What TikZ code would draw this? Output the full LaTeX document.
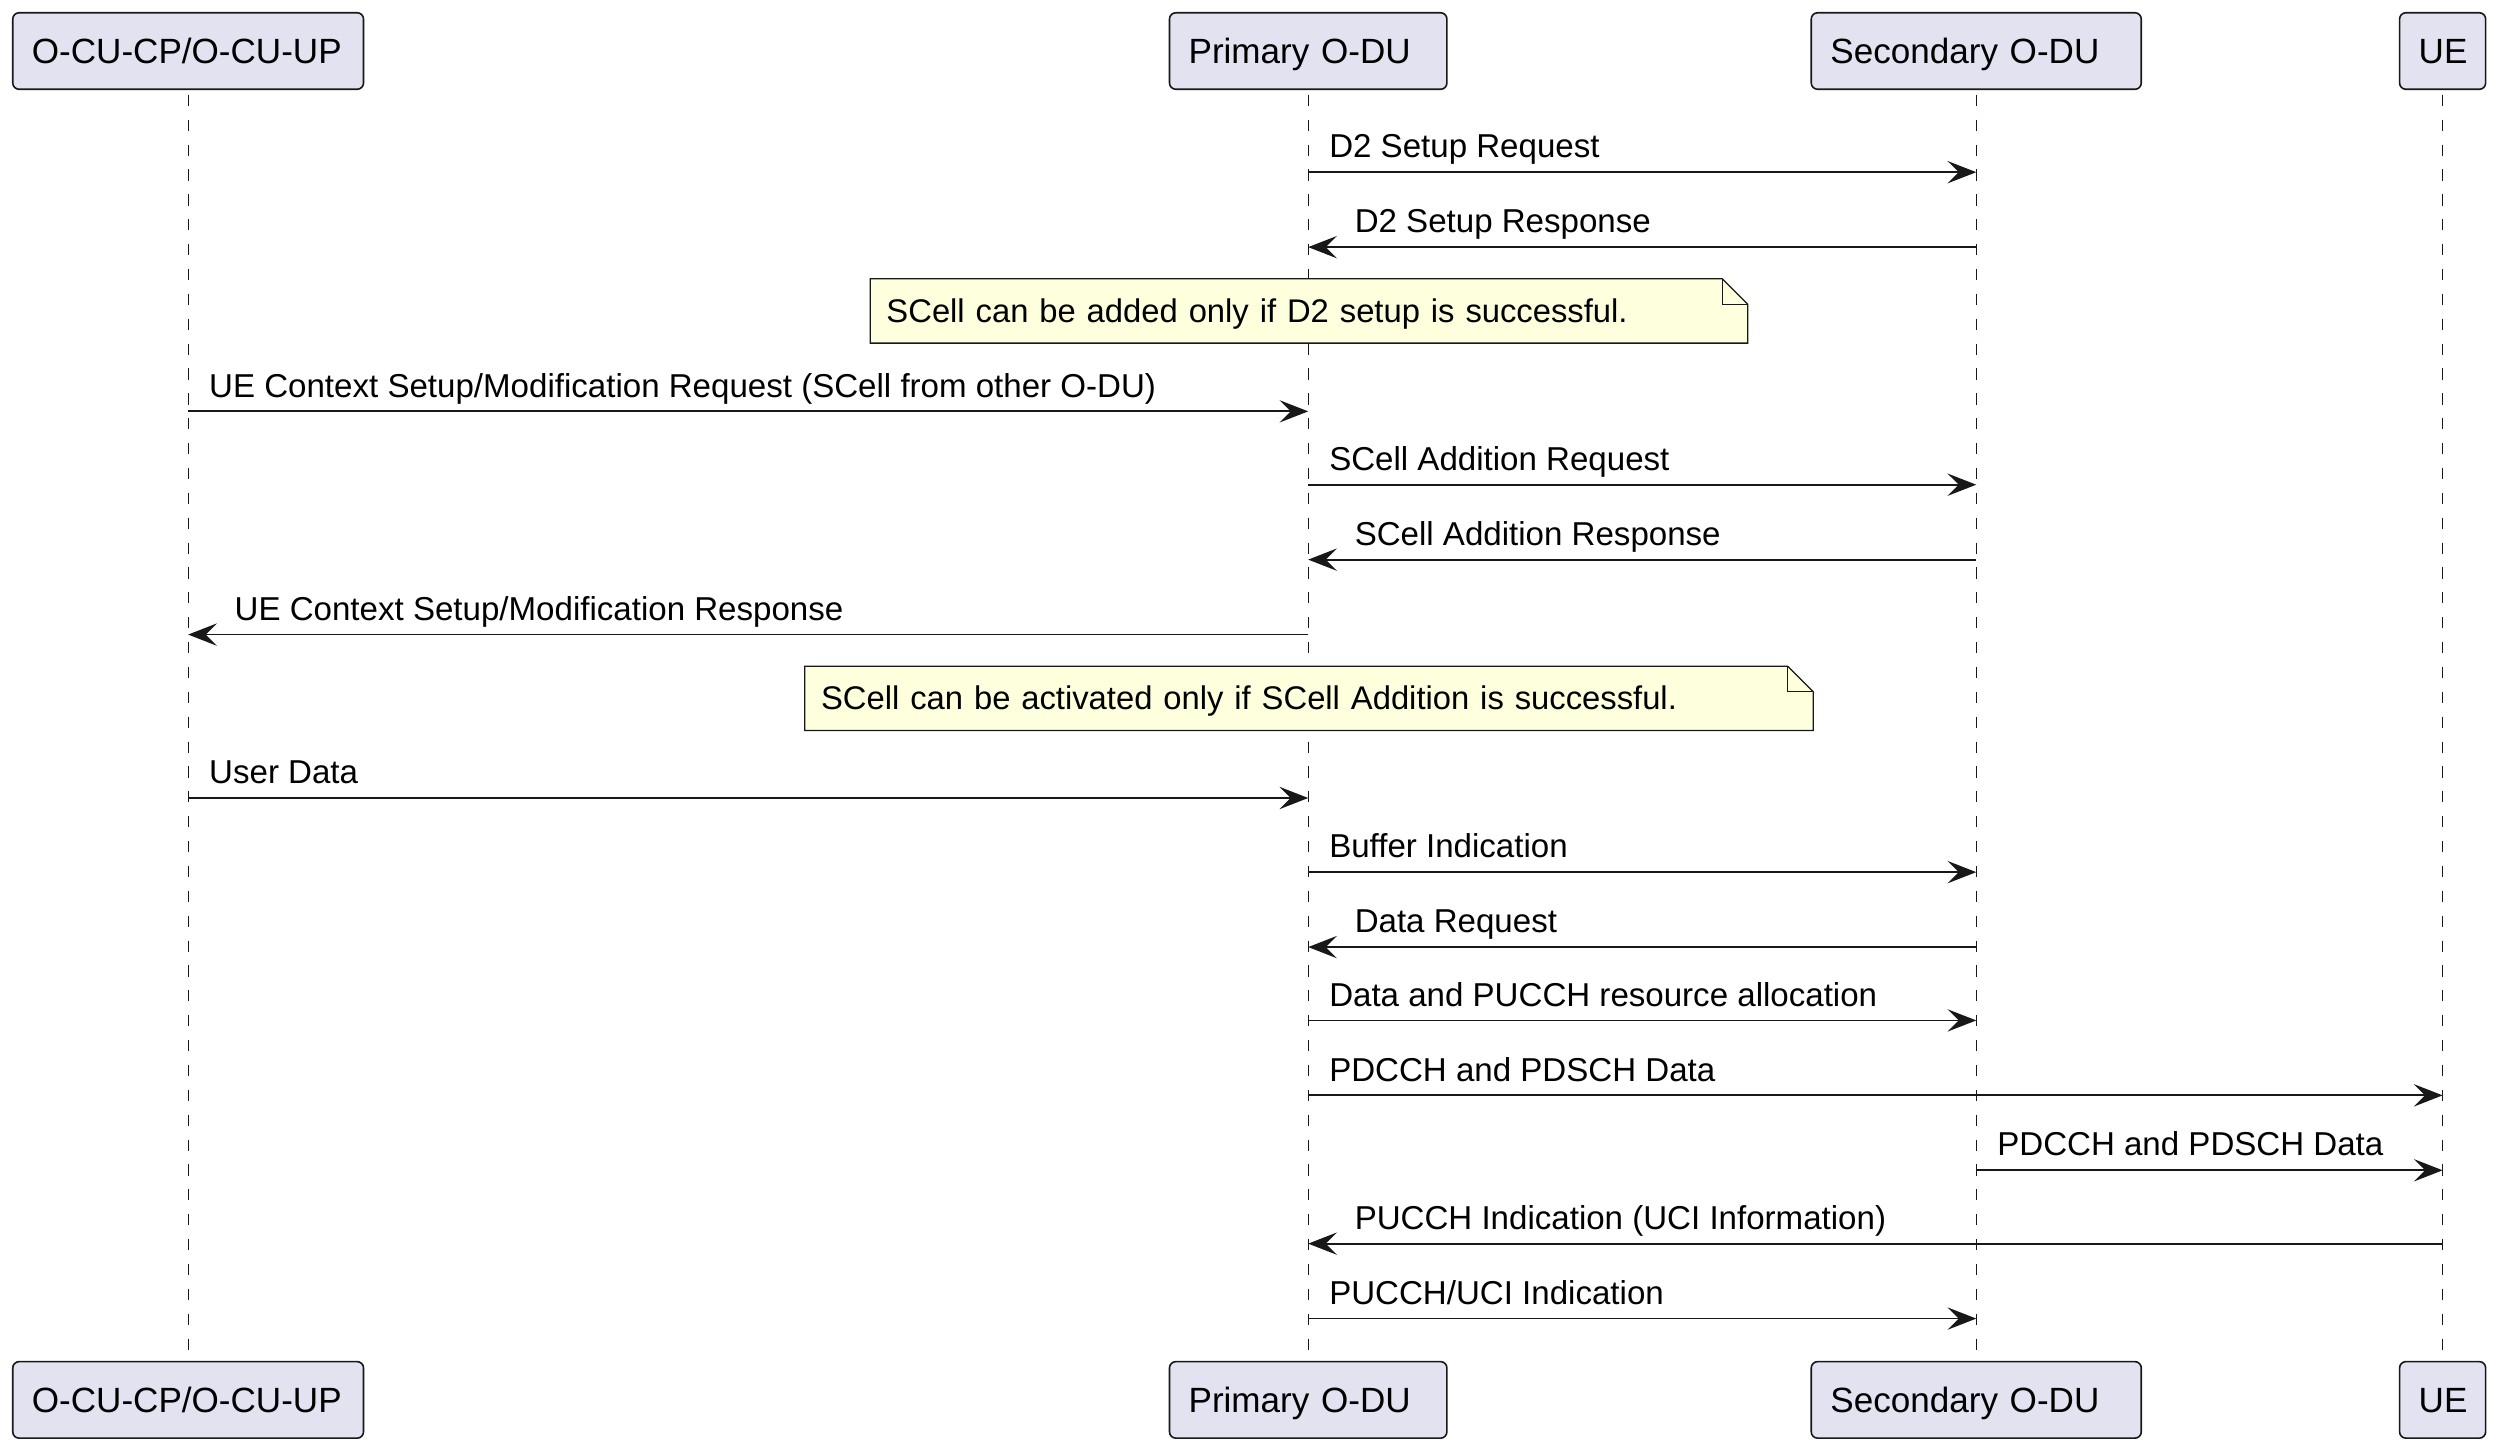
\documentclass[tikz,border=0pt]{standalone}
\usepackage{fontspec}
\setmainfont{Liberation Sans}
\usetikzlibrary{arrows.meta,calc,backgrounds}
\definecolor{lineC}{HTML}{181818}
\definecolor{partF}{HTML}{E2E2F0}
\definecolor{noteF}{HTML}{FEFFDD}
\newcommand{\partfont}{\fontsize{22}{26}\selectfont}
\newcommand{\msgfont}{\fontsize{20.75}{24}\selectfont}
\newcommand{\notefont}{\fontsize{20.55}{24}\selectfont}
\begin{document}
\begin{tikzpicture}[x=1pt,y=-1pt,
  part/.style={draw=lineC, fill=partF, rounded corners=4pt, line width=1pt,
    minimum height=48pt, inner xsep=12pt, inner ysep=0pt, align=left,
    text height=18pt, text depth=2.4pt, font=\partfont},
  life/.style={draw=lineC, line width=0.7pt, dash pattern=on 7pt off 8.6pt},
  msg/.style={draw=lineC, line width=1.15pt,
    -{Stealth[length=18pt, width=14pt, inset=7pt]}},
  lbl/.style={anchor=base west, inner sep=0pt, font=\msgfont},
  notetxt/.style={inner xsep=10pt, inner ysep=0pt, align=left,
    minimum height=40pt, text height=17pt, text depth=2.4pt, font=\notefont},
  notebox/.style={draw=lineC, fill=noteF, line width=0.8pt, line join=miter},
  fold/.style={draw=lineC, line width=0.8pt}
]
\useasboundingbox (0,0) rectangle (1568,911);

% participants (top)
\node[part, text width=196pt] (ocuT) at (118,32)   {O-CU-CP/O-CU-UP};
\node[part, text width=150pt] (pduT) at (820.5,32) {Primary O-DU};
\node[part, text width=183pt] (sduT) at (1239.5,32) {Secondary O-DU};
\node[part, text width=30pt]  (ueT)  at (1532,32)  {UE};
% participants (bottom)
\node[part, text width=196pt] (ocuB) at (118,878)   {O-CU-CP/O-CU-UP};
\node[part, text width=150pt] (pduB) at (820.5,878) {Primary O-DU};
\node[part, text width=183pt] (sduB) at (1239.5,878) {Secondary O-DU};
\node[part, text width=30pt]  (ueB)  at (1532,878)  {UE};

% rows
\coordinate (r1) at (0,108);
\coordinate (r2) at (0,155);
\coordinate (r3) at (0,258);
\coordinate (r4) at (0,304);
\coordinate (r5) at (0,351);
\coordinate (r6) at (0,398);
\coordinate (r7) at (0,500.5);
\coordinate (r8) at (0,547);
\coordinate (r9) at (0,594);
\coordinate (r10) at (0,640);
\coordinate (r11) at (0,687);
\coordinate (r12) at (0,734);
\coordinate (r13) at (0,780);
\coordinate (r14) at (0,827);

% messages
\draw[msg] (pduT |- r1) -- (sduT |- r1);
\node[lbl] (t1) at ($(pduT |- r1)+(13,-9)$) {D2 Setup Request};

\draw[msg] (sduT |- r2) -- (pduT |- r2);
\node[lbl] (t2) at ($(pduT |- r2)+(29,-9)$) {D2 Setup Response};

% note 1
\node[notetxt, text width=530pt] (n1) at (821,195) {SCell can be added only if D2 setup is successful.};

\draw[msg] (ocuT |- r3) -- (pduT |- r3);
\node[lbl] (t3) at ($(ocuT |- r3)+(13,-9)$) {UE Context Setup/Modification Request (SCell from other O-DU)};

\draw[msg] (pduT |- r4) -- (sduT |- r4);
\node[lbl] (t4) at ($(pduT |- r4)+(13,-9)$) {SCell Addition Request};

\draw[msg] (sduT |- r5) -- (pduT |- r5);
\node[lbl] (t5) at ($(pduT |- r5)+(29,-9)$) {SCell Addition Response};

\draw[msg] (pduT |- r6) -- (ocuT |- r6);
\node[lbl] (t6) at ($(ocuT |- r6)+(29,-9)$) {UE Context Setup/Modification Response};

% note 2
\node[notetxt, text width=612pt] (n2) at (821,438) {SCell can be activated only if SCell Addition is successful.};

\draw[msg] (ocuT |- r7) -- (pduT |- r7);
\node[lbl] (t7) at ($(ocuT |- r7)+(13,-9)$) {User Data};

\draw[msg] (pduT |- r8) -- (sduT |- r8);
\node[lbl] (t8) at ($(pduT |- r8)+(13,-9)$) {Buffer Indication};

\draw[msg] (sduT |- r9) -- (pduT |- r9);
\node[lbl] (t9) at ($(pduT |- r9)+(29,-9)$) {Data Request};

\draw[msg] (pduT |- r10) -- (sduT |- r10);
\node[lbl] (t10) at ($(pduT |- r10)+(13,-9)$) {Data and PUCCH resource allocation};

\draw[msg] (pduT |- r11) -- (ueT |- r11);
\node[lbl] (t11) at ($(pduT |- r11)+(13,-9)$) {PDCCH and PDSCH Data};

\draw[msg] (sduT |- r12) -- (ueT |- r12);
\node[lbl] (t12) at ($(sduT |- r12)+(13,-9)$) {PDCCH and PDSCH Data};

\draw[msg] (ueT |- r13) -- (pduT |- r13);
\node[lbl] (t13) at ($(pduT |- r13)+(29,-9)$) {PUCCH Indication (UCI Information)};

\draw[msg] (pduT |- r14) -- (sduT |- r14);
\node[lbl] (t14) at ($(pduT |- r14)+(13,-9)$) {PUCCH/UCI Indication};

% background: white page, lifelines, note shapes behind text
\begin{scope}[on background layer]
\fill[white] (0,0) rectangle (1568,911);
\draw[life] ([yshift=-3pt]ocuT.south) -- (ocuB.north);
\draw[life] ([yshift=-3pt]pduT.south) -- (pduB.north);
\draw[life] ([yshift=-3pt]sduT.south) -- (sduB.north);
\draw[life] ([yshift=-3pt]ueT.south) -- (ueB.north);
\foreach \n in {n1,n2}{
  \draw[notebox] (\n.north west) -- ($(\n.north east)+(-16,0)$) -- ($(\n.north east)+(0,16)$)
     -- (\n.south east) -- (\n.south west) -- cycle;
  \draw[fold] ($(\n.north east)+(-16,0)$) -- ($(\n.north east)+(-16,16)$) -- ($(\n.north east)+(0,16)$);
}
\end{scope}
\end{tikzpicture}
\end{document}
